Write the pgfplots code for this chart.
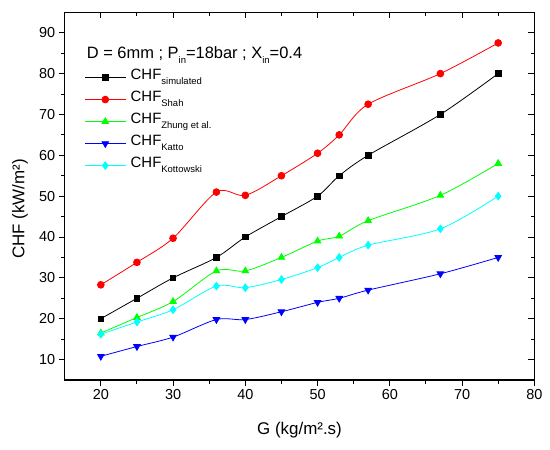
\documentclass[border=0pt]{standalone}
\usepackage{fontspec}
\setmainfont{Liberation Sans}
\usepackage{pgfplots}
\pgfplotsset{compat=1.18}
\definecolor{cgreen}{RGB}{0,255,0}
\definecolor{ccyan}{RGB}{0,255,255}
\definecolor{cred}{RGB}{255,0,0}
\definecolor{cblue}{RGB}{0,0,255}
\newcommand\sub[1]{\raisebox{-5bp}{\fontsize{9.5}{10}\selectfont #1}}
\begin{document}
\begin{tikzpicture}
\path[use as bounding box] (-64.7bp,-70bp) rectangle (485.3bp,380bp);
\begin{axis}[
 scale only axis, width=469.6bp, height=367.7bp,
 xmin=15,xmax=80,ymin=5,ymax=95,
 xtick={20,30,...,80}, ytick={10,20,...,90},
 minor xtick={25,35,...,75}, minor ytick={15,25,...,85},
 tick align=outside, xtick pos=left, ytick pos=left,
 major tick length=6bp, minor tick length=3.5bp,
 axis line style={line width=1.3bp},
 every tick/.style={line width=1bp, black},
 tick label style={font=\fontsize{14.5}{16}\selectfont},
 /pgf/number format/assume math mode=true,
 xlabel={G (kg/m².s)}, ylabel={CHF (kW/m²)},
 label style={font=\fontsize{17}{19}\selectfont},
 xlabel style={at={(axis description cs:0.5,-0.136)}, anchor=center},
 ylabel style={at={(axis description cs:-0.095,0.465)}, anchor=center, rotate=0},
 legend style={draw=none, fill=none, inner sep=0pt, at={(rel axis cs:0.0426,0.853)}, anchor=north west,
   font=\fontsize{15}{17}\selectfont, row sep=0pt, column sep=3bp,
   nodes={text height=11bp, text depth=7bp, inner sep=2bp}},
 legend cell align=left,
 legend image code/.code={\draw[mark repeat=2,mark phase=2] plot coordinates {(0bp,0bp)(20bp,0bp)(40bp,0bp)};},
 every axis plot/.append style={line width=0.8bp},
]
\addplot[black, smooth, mark=square*, mark size=2.8bp] coordinates {
(20,20)(25,25)(30,30)(36,35)(40,40)(45,45)(50,50)(53,55)(57,60)(67,70)(75,80)};
\addlegendentry{CHF\sub{simulated}}
\addplot[cred, smooth, mark=*, mark size=3.4bp] coordinates {
(20,28.3)(25,33.8)(30,39.7)(36,51)(40,50.2)(45,55)(50,60.5)(53,65)(57,72.5)(67,80)(75,87.5)};
\addlegendentry{CHF\sub{Shah}}
\addplot[cgreen, smooth, mark=triangle*, mark size=3.8bp] coordinates {
(20,16.5)(25,20.3)(30,24.2)(36,31.7)(40,31.7)(45,35)(50,39)(53,40.2)(57,44)(67,50.2)(75,58)};
\addlegendentry{CHF\sub{Zhung et al.}}
\addplot[cblue, smooth, mark=triangle*, mark size=3.8bp, mark options={rotate=180}] coordinates {
(20,10.8)(25,13.2)(30,15.5)(36,19.8)(40,19.8)(45,21.7)(50,24)(53,25)(57,27)(67,31)(75,35)};
\addlegendentry{CHF\sub{Katto}}
\addplot[ccyan, smooth, mark=diamond*, mark size=3.8bp] coordinates {
(20,16.2)(25,19.2)(30,22.2)(36,28)(40,27.6)(45,29.6)(50,32.5)(53,35)(57,38)(67,42)(75,50)};
\addlegendentry{CHF\sub{Kottowski}}
\node[anchor=base west, inner sep=0pt, font=\fontsize{16.5}{18}\selectfont] at (rel axis cs:0.0468,0.875) {D = 6mm ; P\sub{in}=18bar ; X\sub{in}=0.4};
\end{axis}
\begin{axis}[
 scale only axis, width=469.6bp, height=367.7bp,
 xmin=15,xmax=80,ymin=5,ymax=95,
 xtick={20,30,...,80}, ytick={10,20,...,90},
 minor xtick={25,35,...,75}, minor ytick={15,25,...,85},
 tick align=inside, xtick pos=right, ytick pos=right,
 major tick length=6bp, minor tick length=3.5bp,
 axis line style={line width=1.3bp},
 every tick/.style={line width=1bp, black},
 xticklabels={}, yticklabels={},
]
\end{axis}
\end{tikzpicture}
\end{document}
